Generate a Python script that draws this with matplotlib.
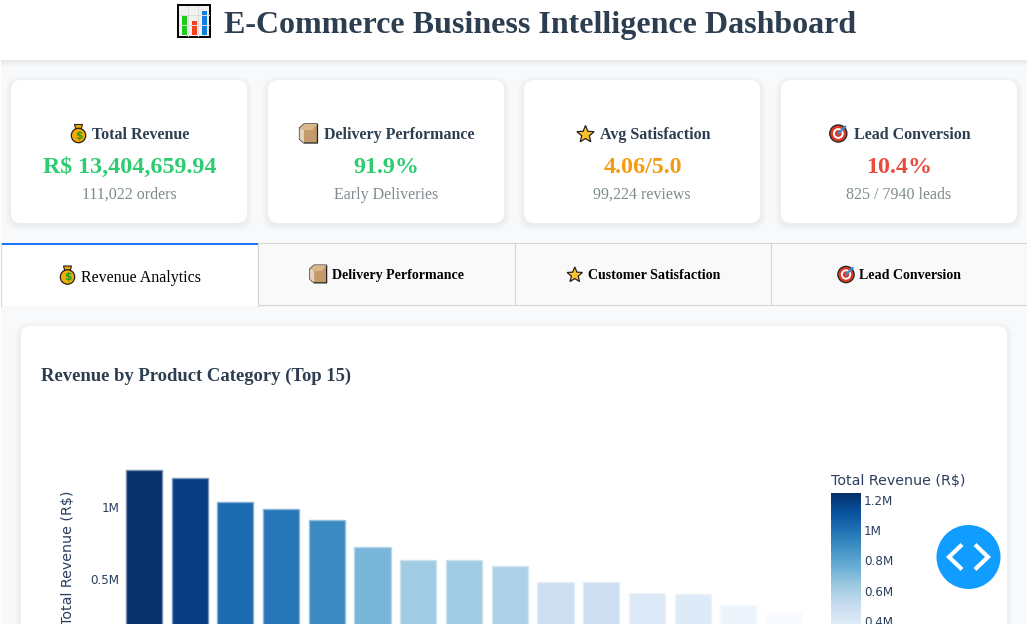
import numpy as np
import matplotlib
matplotlib.use('Agg')
import matplotlib.pyplot as plt
from matplotlib.patches import FancyBboxPatch, Rectangle, Circle, Polygon
from matplotlib.colors import Normalize
from matplotlib.cm import ScalarMappable
from matplotlib.transforms import ScaledTranslation

W, H = 1032, 640

# chart data
ranks = list(range(1, 16))
revenue = [1257000, 1203000, 1036000, 987000, 911000, 728000, 633000, 632000,
           592000, 485000, 484000, 408000, 399000, 323000, 272000]
yticks = [500000, 1000000]
yticklabels = ['0.5M', '1M']
cbar_ticks = [400000, 600000, 800000, 1000000, 1200000]
cbar_labels = ['0.4M', '0.6M', '0.8M', '1M', '1.2M']

# kpi cards
card_titles = ['Total Revenue', 'Delivery Performance', 'Avg Satisfaction', 'Lead Conversion']
card_values = ['R$ 13,404,659.94', '91.9%', '4.06/5.0', '10.4%']
card_subs = ['111,022 orders', 'Early Deliveries', '99,224 reviews', '825 / 7940 leads']
card_colors = ['#2ecc71', '#2ecc71', '#f39c12', '#e74c3c']
card_icons = ['bag', 'box', 'star', 'target']
tab_titles = ['Revenue Analytics', 'Delivery Performance', 'Customer Satisfaction', 'Lead Conversion']

SERIF = 'Liberation Serif'
DARK = '#2c3e50'
TICK = '#2a3f5f'


def px(v):
    # css pixels to points
    return v * 72 / 100


def px_axes(x0, y0, x1, y1, zorder=1):
    ax = fig.add_axes([x0 / W, 1 - y1 / H, (x1 - x0) / W, (y1 - y0) / H], zorder=zorder)
    return ax


def rounded(ax, x0, y0, x1, y1, r=10, **kw):
    p = FancyBboxPatch((x0 + r, y0 + r), x1 - x0 - 2 * r, y1 - y0 - 2 * r,
                       boxstyle='round,pad=%s,rounding_size=%s' % (r, r), **kw)
    ax.add_patch(p)


def card(ax, x0, y0, x1, y1):
    for grow in range(6, 0, -1):
        rounded(ax, x0 - grow, y0 - grow + 2, x1 + grow, y1 + grow + 2, r=10 + grow,
                fc='black', ec='none', alpha=0.006)
    rounded(ax, x0, y0, x1, y1, fc='white', ec='none')


def draw_bag(ax, cx, cy, s=1.0):
    ax.add_patch(Polygon([(cx - 4 * s, cy - 9 * s), (cx + 4 * s, cy - 9 * s), (cx + 2.5 * s, cy - 3.5 * s),
                          (cx - 2.5 * s, cy - 3.5 * s)], fc='#f0a800', ec='#222222', lw=0.8))
    ax.add_patch(Circle((cx, cy + 2 * s), 7.2 * s, fc='#f5ab00', ec='#222222', lw=0.9))
    ax.text(cx, cy + 2.2 * s, '$', color='#1f9d2a', fontsize=px(10.5 * s), fontweight='bold',
            ha='center', va='center', family='DejaVu Sans')


def draw_box(ax, cx, cy, s=1.0):
    ax.add_patch(Polygon([(cx - 8 * s, cy - 5 * s), (cx - 4 * s, cy - 8.5 * s), (cx + 8 * s, cy - 8.5 * s),
                          (cx + 8 * s, cy + 8.5 * s), (cx - 4 * s, cy + 8.5 * s), (cx - 8 * s, cy + 5 * s)],
                         fc='#c49a6c', ec='#222222', lw=0.9))
    ax.add_patch(Polygon([(cx - 8 * s, cy - 5 * s), (cx - 4 * s, cy - 3 * s), (cx - 4 * s, cy + 8.5 * s),
                          (cx - 8 * s, cy + 5 * s)], fc='#e3d3c3', ec='none'))
    ax.add_patch(Polygon([(cx - 8 * s, cy - 5 * s), (cx - 4 * s, cy - 8.5 * s), (cx + 8 * s, cy - 8.5 * s),
                          (cx + 3 * s, cy - 3 * s), (cx - 4 * s, cy - 3 * s)], fc='#d9b78f', ec='none'))


def draw_star(ax, cx, cy, s=1.0):
    a = np.deg2rad(np.arange(10) * 36 - 90)
    r = np.where(np.arange(10) % 2 == 0, 9.5 * s, 4.2 * s)
    ax.add_patch(Polygon(np.c_[cx + r * np.cos(a), cy + 1 + r * np.sin(a)], fc='#fdc02f', ec='#222222', lw=0.9))


def draw_target(ax, cx, cy, s=1.0):
    ax.add_patch(Circle((cx, cy), 8.6 * s, fc='#d93a26', ec='#222222', lw=0.9))
    ax.add_patch(Circle((cx, cy), 5.4 * s, fc='white', ec='none'))
    ax.add_patch(Circle((cx, cy), 3.4 * s, fc='#d93a26', ec='none'))
    ax.plot([cx, cx + 7 * s], [cy, cy - 7 * s], color='#2f8fd8', lw=1.6, solid_capstyle='round')


icon_funcs = {'bag': draw_bag, 'box': draw_box, 'star': draw_star, 'target': draw_target}

fig = plt.figure(figsize=(W / 100, H / 100), dpi=100, facecolor='white')

# page, everything here is in screen pixels
page = px_axes(0, 0, W, H, zorder=0)
page.set_xlim(0, W)
page.set_ylim(H, 0)
page.axis('off')
page.add_patch(Rectangle((1, 0), 1026, 640, fc='#f8f9fa', ec='none'))

# header
for grow in range(6, 0, -1):
    page.add_patch(Rectangle((1, 0), 1026, 60 + grow, fc='black', ec='none', alpha=0.01))
page.add_patch(Rectangle((1, 0), 1026, 60, fc='white', ec='none'))
page.text(224, 25, 'E-Commerce Business Intelligence Dashboard', family=SERIF, fontweight='bold',
          fontsize=px(32), color=DARK, ha='left', va='center')

# chart icon in the header
page.add_patch(Rectangle((178, 5), 32, 32, fc='#f1f1f1', ec='black', lw=1.4))
for gx in [188, 198]:
    page.plot([gx, gx], [6, 36], color='#dddddd', lw=0.7)
for gy in [15, 25]:
    page.plot([179, 209], [gy, gy], color='#dddddd', lw=0.7)
page.add_patch(Rectangle((182, 15), 5, 19.5, fc='#1ccb1c', ec='none'))
page.add_patch(Rectangle((192, 21), 5, 13.5, fc='#f5411f', ec='none'))
page.add_patch(Rectangle((202, 11), 5, 23.5, fc='#0f7fe0', ec='none'))

# kpi cards
card_x = [(11, 247), (268, 504), (524, 760), (781, 1017)]
title_x = [92, 324, 600, 854]
icon_x = [78.5, 308.5, 585.5, 838.3]
icon_s = [1.0, 1.12, 0.95, 1.0]
for i in range(4):
    x0, x1 = card_x[i]
    card(page, x0, 80, x1, 223)
    c = (x0 + x1) / 2
    page.text(title_x[i], 135, card_titles[i], family=SERIF, fontweight='bold', fontsize=px(16),
              color=DARK, ha='left', va='center')
    icon_funcs[card_icons[i]](page, icon_x[i], 133.5, icon_s[i])
    page.text(c + 0.5, 167.5, card_values[i], family=SERIF, fontweight='bold', fontsize=px(24),
              color=card_colors[i], ha='center', va='center')
    page.text(c, 195, card_subs[i], family=SERIF, fontsize=px(16), color='#7f8c8d',
              ha='center', va='center')

# tabs
tab_x = [(1, 258), (258, 514.5), (514.5, 771), (771, 1026.5)]
tab_text_x = [81, 332, 588, 859]
tab_icon_x = [67.5, 318.3, 574.8, 846]
tab_icon_y = [275, 274, 274, 274.5]
tab_icon_s = [1.0, 1.04, 0.85, 0.95]
for i in range(4):
    x0, x1 = tab_x[i]
    if i == 0:
        page.add_patch(Rectangle((x0, 243), x1 - x0, 63, fc='white', ec='none'))
        page.plot([x0, x0], [243, 305.5], color='#d6d6d6', lw=0.8)
        page.plot([x1, x1], [243, 305.5], color='#d6d6d6', lw=0.8)
        page.add_patch(Rectangle((x0, 243), x1 - x0, 2, fc='#1975fa', ec='none'))
        page.text(tab_text_x[i], 278, tab_titles[i], family=SERIF, fontsize=px(16), color='black',
                  ha='left', va='center')
    else:
        page.add_patch(Rectangle((x0, 243), x1 - x0, 62, fc='#f9f9f9', ec='#d6d6d6', lw=0.8))
        page.text(tab_text_x[i], 275.5, tab_titles[i], family=SERIF, fontweight='bold', fontsize=px(14),
                  color='black', ha='left', va='center')
    icon_funcs[card_icons[i]](page, tab_icon_x[i], tab_icon_y[i], tab_icon_s[i])

# chart card
card(page, 21, 326, 1007, 680)
page.text(41, 376.5, 'Revenue by Product Category (Top 15)', family=SERIF, fontweight='bold',
          fontsize=px(18.7), color=DARK, ha='left', va='center')

# bars
norm = Normalize(min(revenue), max(revenue))
cmap = plt.cm.Blues
ax = px_axes(121, 440, 807, 651.5)
ax.patch.set_alpha(0)
fills = cmap(norm(revenue))
edges = [tuple(0.55 * c[:3] + 0.45) + (1,) for c in fills]
ax.bar(ranks, revenue, width=0.79, color=fills, edgecolor=edges, linewidth=1.0)
ax.set_xlim(0.5, 15.5)
ax.set_ylim(0, 211.5 / 144 * 1e6)
ax.set_xticks([])
ax.set_yticks(yticks)
ax.set_yticklabels(yticklabels, fontsize=px(12), color=TICK, family='DejaVu Sans')
ax.tick_params(axis='y', length=0, pad=1)
for s in ax.spines.values():
    s.set_visible(False)
page.text(67.5, 557.5, 'Total Revenue (R$)', rotation=90, fontsize=px(14.3), color=TICK,
          family='DejaVu Sans', ha='center', va='center')

# colorbar
cax = px_axes(831, 493, 861, 641.5)
cb = fig.colorbar(ScalarMappable(norm=norm, cmap=cmap), cax=cax)
cb.outline.set_visible(False)
cb.set_ticks(cbar_ticks)
cb.set_ticklabels(cbar_labels)
cax.tick_params(axis='y', length=0, pad=2, labelsize=px(12), labelcolor=TICK)
nudge = ScaledTranslation(0, 1.5 / 100, fig.dpi_scale_trans)
for lab in cax.get_yticklabels():
    lab.set_transform(lab.get_transform() + nudge)
page.text(831, 481, 'Total Revenue (R$)', fontsize=px(14.2), color=TICK, family='DejaVu Sans',
          ha='left', va='center')

# things on top: debug button and the white edge of the screenshot
top = px_axes(0, 0, W, H, zorder=10)
top.set_xlim(0, W)
top.set_ylim(H, 0)
top.axis('off')
top.add_patch(Circle((968.5, 557), 32, fc='#119dff', ec='none'))
top.plot([960.5, 949, 960.5], [546, 557, 568], color='white', lw=3, solid_joinstyle='miter')
top.plot([976.5, 988, 976.5], [546, 557, 568], color='white', lw=3, solid_joinstyle='miter')
top.add_patch(Rectangle((0, 624), W, 16, fc='white', ec='none'))
top.add_patch(Rectangle((1027, 0), 5, H, fc='white', ec='none'))

fig.savefig('out.png', dpi=100)
